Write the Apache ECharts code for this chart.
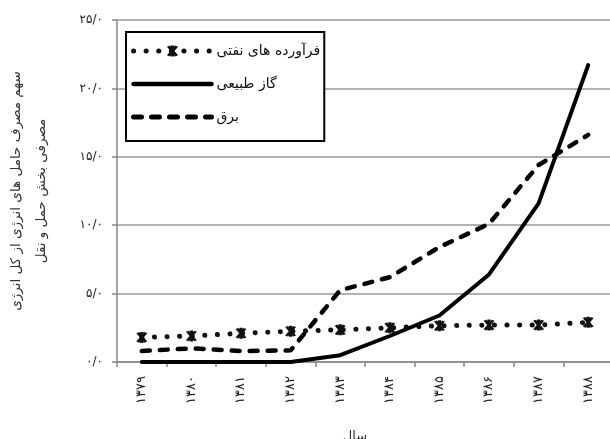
<!DOCTYPE html>
<html><head><meta charset="utf-8">
<script src="https://cdn.jsdelivr.net/npm/echarts@6/dist/echarts.min.js"></script>
<style>html,body{margin:0;padding:0;background:#fff}#c{width:610px;height:439px}</style>
</head><body><div id="c"></div>
<script>
var categories = ['۱۳۷۹','۱۳۸۰','۱۳۸۱','۱۳۸۲','۱۳۸۳','۱۳۸۴','۱۳۸۵','۱۳۸۶','۱۳۸۷','۱۳۸۸'];
var oilProducts = [1.8, 1.9, 2.1, 2.25, 2.35, 2.5, 2.65, 2.7, 2.7, 2.9];
var naturalGas = [0, 0, 0, 0, 0.5, 1.9, 3.4, 6.4, 11.6, 21.7];
var electricity = [0.8, 1.0, 0.8, 0.85, 5.25, 6.2, 8.4, 10.1, 14.4, 16.6];
var seriesNames = ['فرآورده های نفتی', 'گاز طبیعی', 'برق'];
var yTickLabels = ['۰/۰','۵/۰','۱۰/۰','۱۵/۰','۲۰/۰','۲۵/۰'];
var yAxisTitle = 'سهم مصرف حامل های انرژی از کل انرژی\nمصرفی بخش حمل و نقل';
var xAxisTitle = 'سال';

var FONT = 'DejaVu Sans';
var asterisk = 'path://M-1,-5L1,-5L1,5L-1,5Z M-3.366,-3.83L-1.634,-4.83L3.366,3.83L1.634,4.83Z M-1.634,4.83L-3.366,3.83L1.634,-4.83L3.366,-3.83Z';
var hidden = {color: 'rgba(0,0,0,0)', borderWidth: 0};

var chart = echarts.init(document.getElementById('c'), null, {renderer:'canvas'});
chart.setOption({
  backgroundColor: '#fff',
  animation: false,
  textStyle: {fontFamily: FONT},
  grid: {left: 117, right: -3, top: 20, bottom: 77, outerBoundsMode: 'none', containLabel: false},
  legend: {
    orient: 'vertical', left: 126, top: 32,
    itemWidth: 78, itemHeight: 14, itemGap: 19,
    padding: [12, 4, 17, 5],
    borderColor: '#000', borderWidth: 2,
    backgroundColor: '#fff',
    textStyle: {fontFamily: FONT, fontSize: 14, color: '#111'},
    data: [
      {name: seriesNames[0], lineStyle: {width: 5}},
      {name: seriesNames[1], itemStyle: hidden, lineStyle: {width: 4.5}},
      {name: seriesNames[2], itemStyle: hidden, lineStyle: {width: 5}}
    ]
  },
  xAxis: {
    type: 'category', data: categories, boundaryGap: true,
    name: xAxisTitle, nameLocation: 'middle', nameGap: 68,
    nameTextStyle: {fontFamily: FONT, fontSize: 13, color: '#333', padding:[0,20,0,0]},
    axisLine: {lineStyle: {color: '#888', width: 1.5}},
    axisTick: {show: true, length: 5, lineStyle: {color: '#888', width: 1.5}},
    axisLabel: {rotate: 90, fontSize: 13, color: '#222', fontFamily: FONT, margin: 14}
  },
  yAxis: {
    type: 'value', min: 0, max: 25, interval: 5,
    name: yAxisTitle, nameLocation: 'middle', nameRotate: 90, nameGap: 63,
    nameTextStyle: {fontFamily: FONT, fontSize: 13.5, color: '#333', lineHeight: 25},
    axisLine: {show: true, lineStyle: {color: '#888', width: 1.5}},
    axisTick: {show: true, length: 5, lineStyle: {color: '#888', width: 1.5}},
    splitLine: {lineStyle: {color: '#999', width: 1.5}},
    axisLabel: {
      fontSize: 12, color: '#222', fontFamily: FONT, margin: 14,
      formatter: function (v) { return yTickLabels[Math.round(v / 5)]; }
    }
  },
  series: [
    {
      name: seriesNames[0], type: 'line', data: oilProducts,
      symbol: asterisk, symbolSize: 11, showSymbol: true,
      itemStyle: {color: '#111'},
      lineStyle: {color: '#111', width: 5, type: [0.1, 12.5], cap: 'round'},
      z: 3
    },
    {
      name: seriesNames[1], type: 'line', data: naturalGas,
      symbol: 'none',
      itemStyle: {color: '#000'},
      lineStyle: {color: '#000', width: 4, type: 'solid', cap: 'round', join: 'round'},
      z: 4
    },
    {
      name: seriesNames[2], type: 'line', data: electricity,
      symbol: 'none',
      itemStyle: {color: '#000'},
      lineStyle: {color: '#000', width: 4.5, type: [8, 10], cap: 'round', join: 'round'},
      z: 2
    }
  ]
});
</script></body></html>
